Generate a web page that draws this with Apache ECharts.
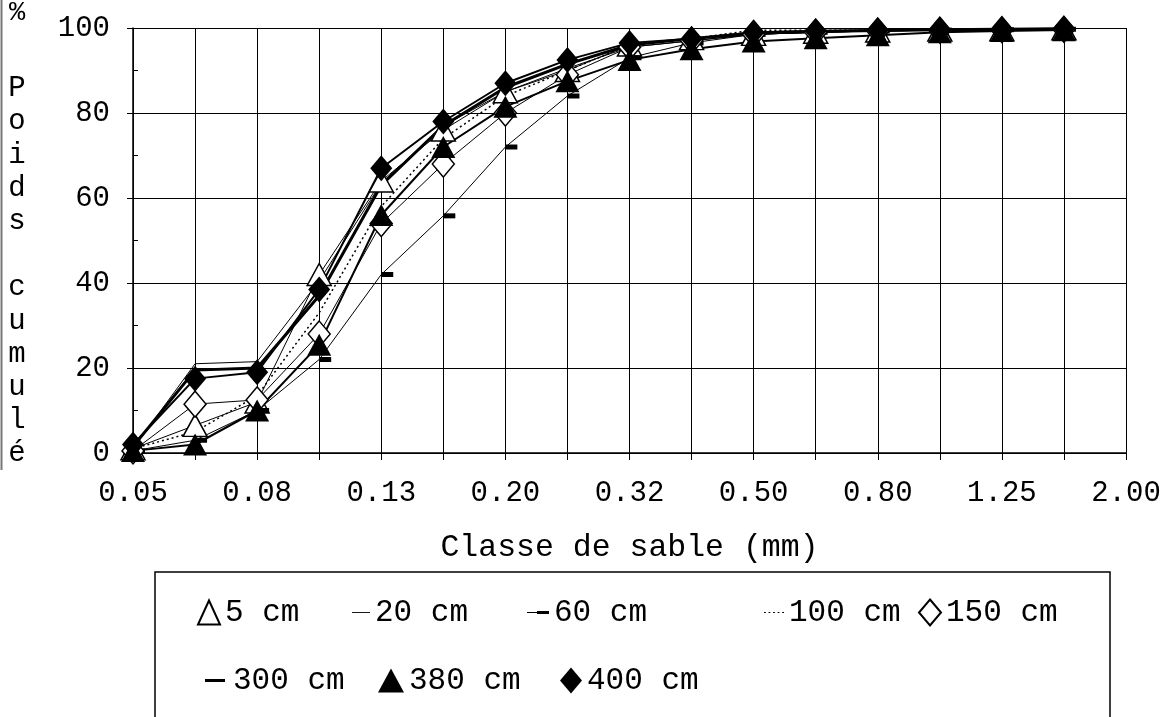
<!DOCTYPE html>
<html>
<head>
<meta charset="utf-8">
<script src="https://cdn.jsdelivr.net/npm/echarts@6/dist/echarts.min.js"></script>
<style>
html,body{margin:0;padding:0;background:#fff;}
#chart{width:1167px;height:717px;}
</style>
</head>
<body>
<div id="chart"></div>
<script>
// Sand size classes (mm)
const categories = ['0.05','0.063','0.08','0.1','0.125','0.16','0.2','0.25','0.315','0.4','0.5','0.63','0.8','1','1.25','1.6','2'];
const tickLabels = ['0.05','','0.08','','0.13','','0.20','','0.32','','0.50','','0.80','','1.25','','2.00'];
const yTicks = [0, 20, 40, 60, 80, 100];

// Cumulative weight (%) per depth
const s5cm   = [1.0, 6.5, 12.0, 42.0, 64.0, 76.0, 85.0, 90.0, 96.0, 97.5, 98.5, 99.0, 99.3, 99.5, 99.6, 99.8];
const s20cm  = [1.0, 21.0, 21.5, 40.5, 63.5, 77.0, 85.0, 90.5, 95.5, 97.0, 98.5, 99.0, 99.3, 99.5, 99.6, 99.7];
const s60cm  = [0.5, 3.0, 10.0, 22.0, 42.0, 55.8, 72.0, 84.0, 93.0, 96.5, 98.5, 99.0, 99.3, 99.5, 99.6, 99.7];
const s100cm = [1.0, 5.0, 13.5, 33.0, 58.0, 74.0, 84.0, 90.0, 96.0, 97.5, 99.5, 99.5, 99.5, 99.6, 99.7, 99.8];
const s150cm = [0.5, 11.5, 12.5, 28.0, 54.0, 68.0, 80.0, 89.0, 95.5, 97.0, 98.5, 99.0, 99.3, 99.5, 99.6, 99.7];
const s300cm = [1.5, 19.5, 20.0, 37.0, 63.0, 77.0, 86.0, 91.5, 96.0, 97.5, 98.8, 99.2, 99.4, 99.6, 99.7, 99.8];
const s380cm = [0.5, 2.0, 10.0, 25.5, 56.0, 72.0, 81.5, 87.5, 92.5, 95.0, 96.8, 97.6, 98.3, 99.0, 99.3, 99.5];
const s400cm = [2.0, 17.5, 19.0, 38.5, 67.0, 78.0, 87.0, 92.5, 96.5, 97.5, 99.0, 99.3, 99.5, 99.6, 99.7, 99.8];

const yTitleTop = '%';
const yTitleRest = ['P','o','i','d','s','','c','u','m','u','l','é'];

const FONT = '"Liberation Mono", "Courier New", monospace';
const chart = echarts.init(document.getElementById('chart'), null, {renderer: 'canvas'});

function lineSeries(name, data, opts) {
  return Object.assign({
    name: name,
    type: 'line',
    data: data,
    symbol: 'none',
    lineStyle: {color: '#000', width: 1},
    itemStyle: {color: '#000'},
    animation: false,
    z: 3
  }, opts);
}

const series = [
  lineSeries('5 cm', s5cm, {symbol: 'triangle', symbolSize: [24, 22], itemStyle: {color: '#fff', borderColor: '#000', borderWidth: 1.5}}),
  lineSeries('20 cm', s20cm, {}),
  lineSeries('60 cm', s60cm, {symbol: 'rect', symbolSize: [12, 5], symbolOffset: [6, 0]}),
  lineSeries('100 cm', s100cm, {lineStyle: {color: '#000', width: 1.5, type: [2, 3]}}),
  lineSeries('150 cm', s150cm, {symbol: 'diamond', symbolSize: [22, 26], itemStyle: {color: '#fff', borderColor: '#000', borderWidth: 1.5}}),
  lineSeries('300 cm', s300cm, {lineStyle: {color: '#000', width: 3}}),
  lineSeries('380 cm', s380cm, {symbol: 'triangle', symbolSize: [24, 22], lineStyle: {color: '#000', width: 2}}),
  lineSeries('400 cm', s400cm, {symbol: 'diamond', symbolSize: [22, 26], lineStyle: {color: '#000', width: 2}})
];

const legendText = {fontFamily: FONT, fontSize: 31, color: '#000'};
function leg(name, left, top, icon, w, h) {
  return {
    data: [{name: name, icon: icon}],
    left: left, top: top,
    itemWidth: w, itemHeight: h,
    itemGap: 0,
    textStyle: legendText,
    padding: 0,
    selectedMode: false
  };
}
const thinLine = 'path://M0,0H20V1H0Z';
const thickLine = 'path://M0,0H20V3H0Z';
const dotLine = 'path://M0,0H2V1H0ZM5,0H7V1H5ZM10,0H12V1H10ZM15,0H17V1H15ZM20,0H22V1H20Z';
const dashLine = 'path://M0,1H12V2H0ZM10,0H22V3H10Z';

const legends = [
  leg('5 cm', 197, 597, 'triangle', 22, 24),
  leg('20 cm', 352, 597, thinLine, 18, 2),
  leg('60 cm', 527, 597, dashLine, 22, 4),
  leg('100 cm', 764, 597, dotLine, 20, 2),
  leg('150 cm', 918, 597, 'diamond', 22, 26),
  leg('300 cm', 205, 665, thickLine, 26, 3),
  leg('380 cm', 378, 665, 'triangle', 26, 24),
  leg('400 cm', 560, 665, 'diamond', 22, 26)
];

const option = {
  backgroundColor: '#fff',
  animation: false,
  textStyle: {fontFamily: FONT},
  grid: {left: 133, right: 41, top: 28, bottom: 264, containLabel: false},
  legend: legends,
  xAxis: {
    type: 'category',
    data: categories,
    boundaryGap: false,
    name: 'Classe de sable (mm)',
    nameLocation: 'middle',
    nameGap: 79,
    nameTextStyle: {fontFamily: FONT, fontSize: 31.5, color: '#000'},
    axisLine: {lineStyle: {color: '#000', width: 1.5}},
    axisTick: {show: true, interval: 0, length: 7, lineStyle: {color: '#000', width: 1}},
    axisLabel: {interval: 0, margin: 26, fontFamily: FONT, fontSize: 29, color: '#000',
      formatter: function (v, i) { return tickLabels[i]; }},
    splitLine: {show: true, interval: 0, lineStyle: {color: '#000', width: 1}}
  },
  yAxis: [{
    type: 'value',
    min: 0, max: 100, interval: 20,
    axisLine: {show: true, lineStyle: {color: '#000', width: 1.5}},
    axisTick: {show: true, length: 6, lineStyle: {color: '#000'}},
    axisLabel: {margin: 23, fontFamily: FONT, fontSize: 29, color: '#000',
      formatter: function (v) { return yTicks.indexOf(v) >= 0 ? String(v) : ''; }},
    splitLine: {show: true, lineStyle: {color: '#000', width: 1}}
  }, {
    type: 'value',
    position: 'left',
    min: 0, max: 100, interval: 10,
    axisLine: {show: false},
    axisTick: {show: true, inside: true, length: 5, lineStyle: {color: '#000'}},
    axisLabel: {show: false},
    splitLine: {show: false}
  }],
  graphic: [
    {type: 'text', left: 5, top: -4, z: 10,
      style: {text: yTitleTop, font: '27px ' + FONT, fill: '#000', lineHeight: 33, textAlign: 'center', width: 24}},
    {type: 'text', left: 5, top: 72, z: 10,
      style: {text: yTitleRest.join('\n'), font: '29px ' + FONT, fill: '#000', lineHeight: 33.2, textAlign: 'center', width: 24}},
    {type: 'rect', shape: {x: 155, y: 572, width: 955, height: 200}, z: 1,
      style: {fill: 'none', stroke: '#000', lineWidth: 1.5}},
    {type: 'line', shape: {x1: 1.5, y1: 0, x2: 1.5, y2: 470}, z: 1,
      style: {stroke: '#777', lineWidth: 2}}
  ],
  series: series
};
chart.setOption(option);
</script>
</body>
</html>
